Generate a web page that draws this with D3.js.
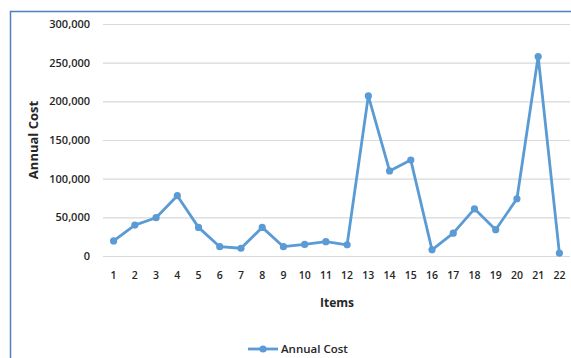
<!DOCTYPE html>
<html lang="en">
<head>
<meta charset="UTF-8">
<title>Annual Cost</title>
<script src="https://cdn.jsdelivr.net/npm/d3@7"></script>
<style>
  body { margin: 0; background: #fff; }
  text { font-family: "Open Sans", "Liberation Sans", sans-serif; fill: #262626; }
</style>
</head>
<body>
<svg width="571" height="358"></svg>
<script>
var items = d3.range(1, 23);
var annualCost = [19500, 40000, 49500, 78000, 37000, 12000, 10000, 37000, 12000, 15000,
                  18500, 14500, 207000, 110000, 124000, 8000, 29500, 61000, 34000, 74000,
                  258000, 3800];
var yTicks = [0, 50000, 100000, 150000, 200000, 250000, 300000];

var svg = d3.select("svg");
var marge = {top: 24, left: 103, right: 570, bottom: 256};
var blue = "#5b9bd5";

// frame of the chart area (cut off on the right and bottom)
svg.append("rect")
    .attr("x", 10.5).attr("y", 11.5)
    .attr("width", 600).attr("height", 400)
    .attr("fill", "none")
    .attr("stroke", "#4f81bd")
    .attr("stroke-width", 1.5);

var xScale = d3.scaleBand()
    .domain(items)
    .range([marge.left, marge.right]);

var yScale = d3.scaleLinear()
    .domain([0, 300000])
    .range([marge.bottom, marge.top]);

// gridlines
svg.append("g")
    .selectAll("line")
    .data(yTicks)
    .enter()
    .append("line")
    .attr("x1", marge.left).attr("x2", marge.right)
    .attr("y1", function(d){ return yScale(d) + 0.5; })
    .attr("y2", function(d){ return yScale(d) + 0.5; })
    .attr("stroke", "#d9d9d9")
    .attr("stroke-width", 1.2);

// y axis
var yAxis = d3.axisLeft(yScale)
    .tickValues(yTicks)
    .tickSize(0)
    .tickPadding(13)
    .tickFormat(d3.format(","));
svg.append("g")
    .attr("transform", "translate(" + marge.left + ",0)")
    .call(yAxis)
    .call(function(g){ g.select(".domain").remove(); })
    .selectAll("text")
    .attr("font-size", 11)
    .attr("font-weight", 600)
    .attr("font-family", "Open Sans")
    .attr("fill", "#262626");

// x axis
var xAxis = d3.axisBottom(xScale).tickSize(0).tickPadding(16);
svg.append("g")
    .attr("transform", "translate(0," + marge.bottom + ")")
    .call(xAxis)
    .call(function(g){ g.select(".domain").remove(); })
    .selectAll("text")
    .attr("font-size", 10.5)
    .attr("font-weight", 600)
    .attr("font-family", "Open Sans")
    .attr("fill", "#262626");

// axis titles
svg.append("text")
    .attr("x", 337).attr("y", 307)
    .attr("text-anchor", "middle")
    .attr("font-size", 12)
    .attr("font-weight", 700)
    .text("Items");

svg.append("text")
    .attr("transform", "translate(38,140) rotate(-90)")
    .attr("text-anchor", "middle")
    .attr("font-size", 13)
    .attr("font-weight", 700)
    .text("Annual Cost");

// line
var line = d3.line()
    .x(function(d, i){ return xScale(items[i]) + xScale.bandwidth() / 2; })
    .y(function(d){ return yScale(d); });

svg.append("path")
    .datum(annualCost)
    .attr("d", line)
    .attr("fill", "none")
    .attr("stroke", blue)
    .attr("stroke-width", 2.8)
    .attr("stroke-linejoin", "round");

svg.append("g")
    .selectAll("circle")
    .data(annualCost)
    .enter()
    .append("circle")
    .attr("cx", function(d, i){ return xScale(items[i]) + xScale.bandwidth() / 2; })
    .attr("cy", function(d){ return yScale(d); })
    .attr("r", 3.6)
    .attr("fill", blue);

// legend
var lg = svg.append("g").attr("transform", "translate(248,349)");
lg.append("line")
    .attr("x1", 0).attr("x2", 30)
    .attr("stroke", blue).attr("stroke-width", 2.8);
lg.append("circle").attr("cx", 15).attr("r", 3.6).attr("fill", blue);
lg.append("text")
    .attr("x", 33).attr("y", 4)
    .attr("font-size", 11.5)
    .attr("font-weight", 600)
    .text("Annual Cost");
</script>
</body>
</html>
